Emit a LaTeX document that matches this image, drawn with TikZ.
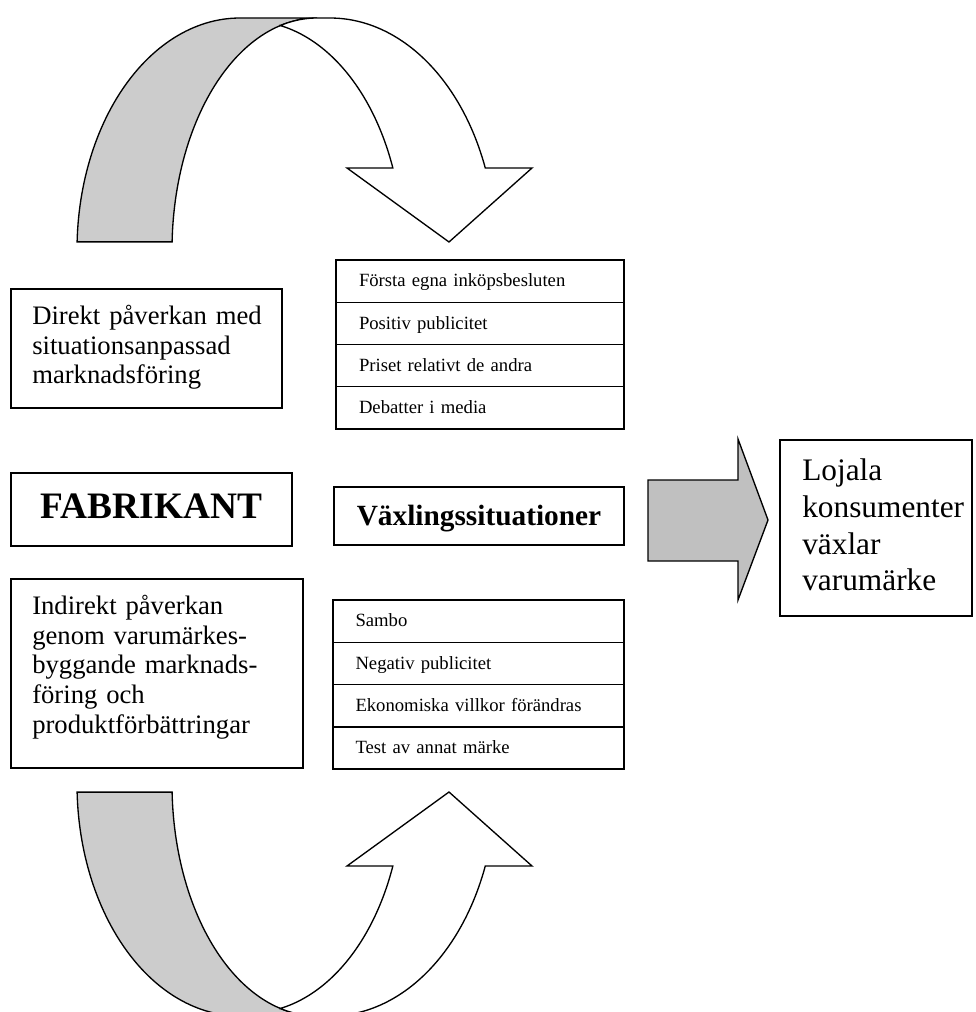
\documentclass[tikz,border=0pt]{standalone}
\usepackage{fontspec}
\setmainfont{Liberation Serif}
\definecolor{backgray}{HTML}{CCCCCC}
\definecolor{pointergray}{HTML}{C0C0C0}

% curved band arrow: shaded back face on the left, white front face ending in a head
\newcommand{\drawbandarrow}{%
  \path[backface]
    plot[domain=178:90, samples=60] ({240+163*cos(\x)}, {250-232*sin(\x)})
    -- (317,18)
    -- plot[domain=90:178, samples=60] ({317+145*cos(\x)}, {250-232*sin(\x)})
    -- cycle;
  \path[frontface]
    plot[domain=104.8:90, samples=12] ({317+145*cos(\x)}, {250-232*sin(\x)})
    -- (330,18)
    -- plot[domain=90:20.7, samples=60] ({330+166*cos(\x)}, {250-232*sin(\x)})
    -- (532,168) -- (449,242) -- (347,168)
    -- plot[domain=21:78.7, samples=60] ({250+153*cos(\x)}, {250-229*sin(\x)})
    -- cycle;
}

\begin{document}
\begin{tikzpicture}[x=0.75pt, y=-0.75pt,
  outline/.style={draw=black, line width=1pt, line join=miter},
  backface/.style={outline, fill=backgray},
  frontface/.style={outline, fill=white},
  boxframe/.style={draw=black, line width=1.1pt, anchor=north west,
    inner sep=0pt, outer sep=0pt, fill=white},
  bodytext/.style={anchor=north west, inner sep=0pt, align=left,
    font=\fontsize{20}{22.3}\selectfont},
  listrow/.style={boxframe, minimum width=216pt, minimum height=31.69pt,
    text width=181.5pt, inner xsep=17.25pt, align=left,
    text height=11.6pt, text depth=3pt, font=\fontsize{14}{16}\selectfont},
  lowrow/.style={listrow, minimum width=0.75pt*291, text width=0.75pt*246,
    inner xsep=0.75pt*22.5},
]
\useasboundingbox (0,0) rectangle (975,1012);
\clip (0,0) rectangle (975,1012);
\fill[white] (0,0) rectangle (975,1012);

% upper and lower curved arrows
\begin{scope}
  \drawbandarrow
\end{scope}
\begin{scope}[shift={(0,1034)}, yscale=-1]
  \drawbandarrow
\end{scope}

% left column
\node[boxframe, minimum width=0.75pt*271, minimum height=0.75pt*119] (direktbox) at (11,289) {};
\node[bodytext, text width=0.75pt*255] (direkt) at (32,303.2)
  {\strut Direkt påverkan med\\situationsanpassad\\marknadsföring};

\node[boxframe, minimum width=0.75pt*281, minimum height=0.75pt*73,
  font=\bfseries\fontsize{28}{32}\selectfont, text height=18.5pt, text depth=4.5pt]
  (fabrikant) at (11,473) {FABRIKANT};

\node[boxframe, minimum width=0.75pt*292, minimum height=0.75pt*189] (indirektbox) at (11,579) {};
\node[bodytext, text width=0.75pt*268] (indirekt) at (32,593.2)
  {\strut Indirekt påverkan\\genom varumärkes-\\byggande marknads-\\föring och\\produktförbättringar};

% middle column
\node[listrow] (u1) at (336,260) {Första egna inköpsbesluten};
\node[listrow] (u2) at (u1.south west) {Positiv publicitet};
\node[listrow] (u3) at (u2.south west) {Priset relativt de andra};
\node[listrow] (u4) at (u3.south west) {Debatter i media};

\node[boxframe, minimum width=0.75pt*290, minimum height=0.75pt*58,
  font=\bfseries\fontsize{22}{26}\selectfont, text height=14.6pt, text depth=0pt]
  (vaxling) at (334,487) {Växlingssituationer};

\node[lowrow] (l1) at (333,600) {Sambo};
\node[lowrow] (l2) at (l1.south west) {Negativ publicitet};
\node[lowrow] (l3) at (l2.south west) {Ekonomiska villkor förändras};
\node[lowrow] (l4) at (l3.south west) {Test av annat märke};

% block arrow towards the result
\path[outline, fill=pointergray]
  (648,480) -- (738,480) -- (738,439) -- (768,520) -- (738,600) -- (738,561) -- (648,561) -- cycle;

% right column
\node[boxframe, minimum width=0.75pt*192, minimum height=0.75pt*176] (lojalabox) at (780,440) {};
\node[anchor=north west, inner sep=0pt, align=left, text width=0.75pt*170,
  font=\fontsize{23.5}{27.5}\selectfont] (lojala) at (802,454.8)
  {\strut Lojala\\konsumenter\\växlar\\varumärke};
\end{tikzpicture}
\end{document}
